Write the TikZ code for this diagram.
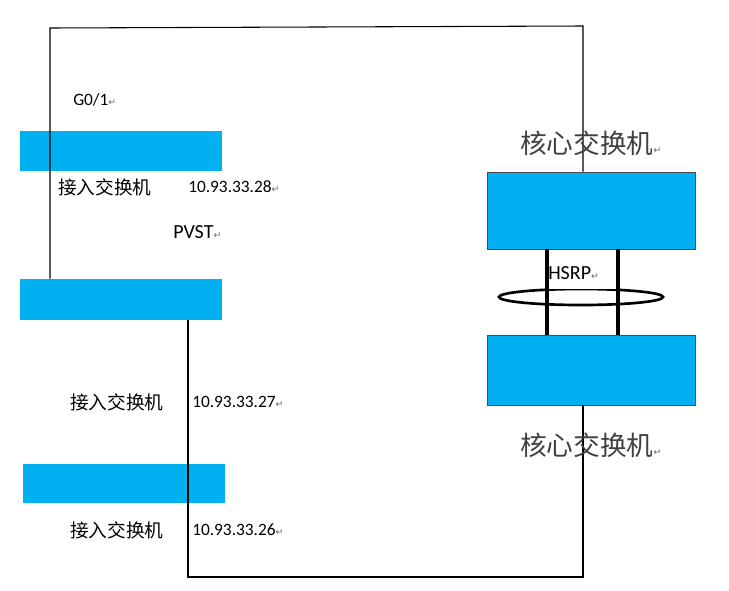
\documentclass[tikz,border=0pt]{standalone}
\usepackage{fontspec}
\setmainfont{Carlito}
\newfontfamily\cjk{Noto Sans CJK SC}
\newfontfamily\sym{DejaVu Sans}
\begin{document}
\begin{tikzpicture}[x=0.75pt,y=-0.75pt]
\definecolor{sw}{HTML}{00B0F0}
\tikzset{swbox/.style={fill=sw,draw=none},
 ln/.style={line width=0.8pt},
 lbl/.style={anchor=west,inner sep=0pt,font=\fontsize{13}{15}\selectfont},
 cn/.style={anchor=west,inner sep=0pt,font=\cjk\fontsize{14}{16}\selectfont},
 big/.style={anchor=west,inner sep=0pt,font=\cjk\fontsize{20}{22}\selectfont\color{black!75}}}
\newcommand{\rt}{{\sym\fontsize{7}{7}\selectfont\color{black!60}↵}}
\useasboundingbox (0,0) rectangle (729,590);
\node[swbox,minimum width=202*0.75pt,minimum height=40*0.75pt,inner sep=0pt] (a1) at (121,151) {};
\node[swbox,minimum width=202*0.75pt,minimum height=41*0.75pt,inner sep=0pt] (a2) at (121,299.5) {};
\node[swbox,minimum width=202*0.75pt,minimum height=39*0.75pt,inner sep=0pt] (a3) at (124,483.5) {};
\node[swbox,draw=black!70,minimum width=208*0.75pt,minimum height=77*0.75pt,inner sep=0pt] (c1) at (591,210.5) {};
\node[swbox,draw=black!70,minimum width=208*0.75pt,minimum height=70*0.75pt,inner sep=0pt] (c2) at (591,370) {};
\coordinate (tl) at (50,28); \coordinate (tr) at (583,26);
\coordinate (bl) at (188,577); \coordinate (br) at (583,577);
\draw[ln] (a2.north -| tl) -- (tl) -- (tr) -- (c1.north -| tr);
\draw[ln] (c2.south -| br) -- (br) -- (bl) -- (a2.south -| bl);
\draw[line width=3pt] (c1.south -| 547,0) -- (c2.north -| 547,0);
\draw[line width=3pt] (c1.south -| 618,0) -- (c2.north -| 618,0);
\draw[line width=2pt,fill=white] (581,297) ellipse (82*0.75pt and 8*0.75pt);
\draw[line width=3pt] (547,291) -- (547,303) (618,291) -- (618,303);
\fill[white] (549,258) rectangle (616,289);
\node[lbl] (g) at (73,100) {G0/1\rt};
\node[cn] (t1) at (58,187) {接入交换机};
\node[lbl] (n1) at (188,187) {10.93.33.28\rt};
\node[lbl,font=\fontsize{15}{17}\selectfont] (pv) at (173,232) {PVST\rt};
\node[big] (k1) at (520,143) {核心交换机\rt};
\node[lbl,font=\fontsize{15}{17}\selectfont] (hs) at (548,273) {HSRP\rt};
\node[cn] (t2) at (70,402) {接入交换机};
\node[lbl] (n2) at (192,402) {10.93.33.27\rt};
\node[big] (k2) at (520,445) {核心交换机\rt};
\node[cn] (t3) at (70,530) {接入交换机};
\node[lbl] (n3) at (192,530) {10.93.33.26\rt};
\end{tikzpicture}
\end{document}
